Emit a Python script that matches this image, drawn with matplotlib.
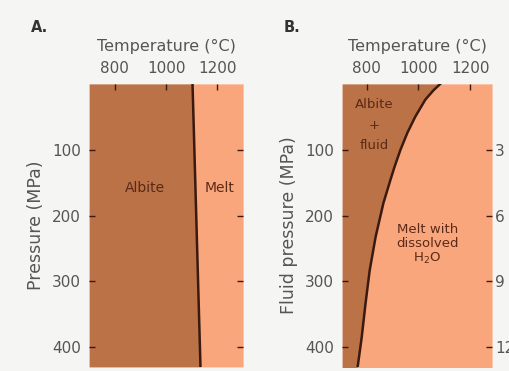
import matplotlib.pyplot as plt

# panel A: albite melting curve (dry)
pressure_a = [0, 430]
temp_a = [1103, 1134]

# panel B: albite + fluid solidus (wet)
pressure_b = [0, 10, 24, 50, 74, 100, 126, 146, 181, 232, 283, 333, 385, 431]
temp_b = [1085, 1058, 1027, 988, 958, 931, 908, 892, 865, 835, 812, 796, 781, 765]

temp_ticks = [800, 1000, 1200]
pressure_ticks = [100, 200, 300, 400]
depth_ticks = [3, 6, 9, 12]

ALBITE = "#bb7246"
MELT = "#f9a67c"
LINE = "#3a1a10"
TEXT = "#555555"
LABEL = "#5a2a18"


def style_axes(ax, xlim):
    ax.set_xlim(*xlim)
    ax.set_ylim(430, 0)
    ax.xaxis.tick_top()
    ax.xaxis.set_label_position("top")
    ax.set_xticks(temp_ticks)
    ax.set_yticks(pressure_ticks)
    ax.set_xlabel("Temperature (°C)", fontsize=11.5, color=TEXT, labelpad=7)
    ax.tick_params(axis="both", direction="in", length=4, width=1, color=LINE,
                   labelcolor=TEXT, labelsize=11, pad=6)
    ax.tick_params(axis="y", right=True)
    for sp in ax.spines.values():
        sp.set_visible(False)


def plot():
    fig = plt.figure(figsize=(5.09, 3.71), dpi=100)
    fig.patch.set_facecolor("#f5f5f3")

    # panel A
    ax1 = fig.add_axes([0.175, 0.011, 0.3026, 0.763])
    ax1.fill_betweenx(pressure_a, 700, temp_a, color=ALBITE, lw=0)
    ax1.fill_betweenx(pressure_a, temp_a, 1300, color=MELT, lw=0)
    ax1.plot(temp_a, pressure_a, color=LINE, lw=1.8)
    style_axes(ax1, (700, 1300))
    ax1.set_ylabel("Pressure (MPa)", fontsize=12.5, color=TEXT, labelpad=5)
    ax1.text(917, 158, "Albite", fontsize=10, color=LABEL, ha="center", va="center")
    ax1.text(1210, 158, "Melt", fontsize=10, color=LABEL, ha="center", va="center")

    # panel B
    ax2 = fig.add_axes([0.672, 0.011, 0.2947, 0.763])
    ax2.fill_betweenx(pressure_b, 705, temp_b, color=ALBITE, lw=0)
    ax2.fill_betweenx(pressure_b, temp_b, 1285, color=MELT, lw=0)
    ax2.plot(temp_b, pressure_b, color=LINE, lw=1.8)
    style_axes(ax2, (705, 1285))
    ax2.set_ylabel("Fluid pressure (MPa)", fontsize=12.5, color=TEXT, labelpad=5)
    ax2.text(828, 31, "Albite", fontsize=9.5, color=LABEL, ha="center", va="center")
    ax2.text(828, 64, "+", fontsize=9.5, color=LABEL, ha="center", va="center")
    ax2.text(828, 94, "fluid", fontsize=9.5, color=LABEL, ha="center", va="center")
    ax2.text(1035, 244, "Melt with\ndissolved\nH$_2$O", fontsize=9.5, color=LABEL,
             ha="center", va="center", linespacing=1.1)

    # depth axis on the right of B
    ax3 = ax2.twinx()
    ax3.set_ylim(430 * 0.03, 0)
    ax3.set_yticks(depth_ticks)
    ax3.tick_params(axis="y", direction="in", length=4, width=1, color=LINE,
                    labelcolor=TEXT, labelsize=11, pad=2)
    for sp in ax3.spines.values():
        sp.set_visible(False)

    fig.text(0.078, 0.925, "A.", fontsize=10.5, fontweight="bold", color="#333333",
             ha="center", va="center")
    fig.text(0.574, 0.925, "B.", fontsize=10.5, fontweight="bold", color="#333333",
             ha="center", va="center")

    fig.savefig("out.png", dpi=100, facecolor=fig.get_facecolor())


def main():
    plot()


if __name__ == "__main__":
    main()
